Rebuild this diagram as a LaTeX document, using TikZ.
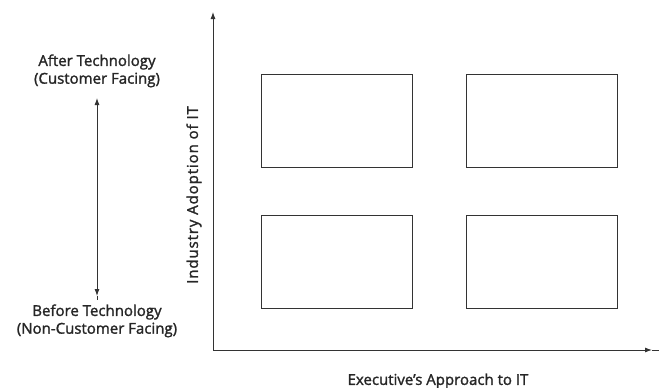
\documentclass[tikz,border=0pt]{standalone}
\usepackage{fontspec}
\setmainfont{Open Sans}
\usetikzlibrary{arrows.meta}
\begin{document}
\begin{tikzpicture}[x=1pt,y=-1pt,
  ln/.style={draw=black!80,line width=0.9pt},
  quad/.style={ln,fill=white},
  lbl/.style={font=\fontsize{15}{17}\selectfont\addfontfeatures{FakeBold=1.6},text=black!85,inner sep=0pt},
  tip/.style={-{Latex[length=7pt,width=5pt]}}]
\useasboundingbox (0,0) rectangle (665,388);
% axes
\coordinate (O) at (213,350);
\coordinate (Ytop) at (213,12);
\coordinate (Xend) at (652,350);
\coordinate (Xstub) at (659,350);
\draw[ln,tip] (O) -- (Ytop);
\draw[ln,tip] (O) -- (Xend);
\draw[ln] (Xend) -- (Xstub);
% quadrants
\draw[quad] (261,74) rectangle (412,167);
\draw[quad] (466,74) rectangle (617,167);
\draw[quad] (261,215) rectangle (412,308);
\draw[quad] (466,215) rectangle (617,308);
% left scale
\coordinate (Atop) at (97,98);
\coordinate (Abot) at (97,296);
\coordinate (Astub) at (97,300);
\draw[ln,{Latex[length=7pt,width=5pt]}-{Latex[length=7pt,width=5pt]}] (Atop) -- (Abot);
\draw[ln] (Abot) -- (Astub);
% labels
\node[lbl] (after1) at (97,62) {After Technology};
\node[lbl] (after2) at (97,80) {(Customer Facing)};
\node[lbl] (before1) at (97,312) {Before Technology};
\node[lbl] (before2) at (97,330) {(Non-Customer Facing)};
\node[lbl,rotate=90] (ylab) at (194,195) {\addfontfeatures{LetterSpace=6}Industry Adoption of IT};
\node[lbl] (xlab) at (438,381) {Executive's Approach to IT};
\end{tikzpicture}
\end{document}
